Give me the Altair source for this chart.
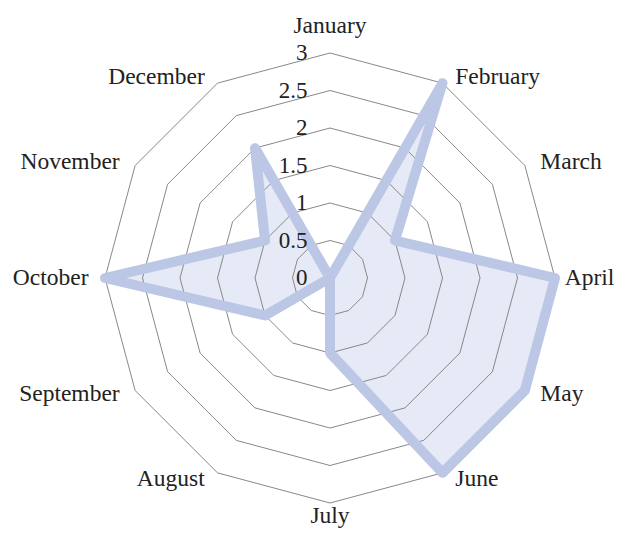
import altair as alt
import pandas as pd

months = ["January", "February", "March", "April", "May", "June",
          "July", "August", "September", "October", "November", "December"]
values = [0, 3, 1, 3, 3, 3, 1, 0, 1, 3, 1, 2]
tick_values = [0, 0.5, 1, 1.5, 2, 2.5, 3]
tick_labels = ["0", "0.5", "1", "1.5", "2", "2.5", "3"]
ring_levels = [0.5, 1, 1.5, 2, 2.5, 3]

n = len(months)
series_df = pd.DataFrame({
    "idx": list(range(n)) + [n],
    "month": months + [months[0]],
    "value": values + [values[0]],
})
grid_df = pd.DataFrame([{"level": lv, "idx": i} for lv in ring_levels for i in range(n + 1)])
label_df = pd.DataFrame({"idx": list(range(n)), "month": months})
tick_df = pd.DataFrame({"value": tick_values, "label": tick_labels})

W, H = 609, 520
xs = alt.Scale(domain=[-322 / 75, (W - 322) / 75], nice=False, zero=False)
ys = alt.Scale(domain=[-(H - 270) / 75, 270 / 75], nice=False, zero=False)
ang = f"2*PI*datum.idx/{n}"
FONT = "Liberation Serif, Times New Roman, serif"
TXT = "#222222"

grid = alt.Chart(grid_df).transform_calculate(
    gx=f"datum.level*sin({ang})", gy=f"datum.level*cos({ang})"
).mark_line(stroke="#888888", strokeWidth=1).encode(
    x=alt.X("gx:Q", scale=xs, axis=None),
    y=alt.Y("gy:Q", scale=ys, axis=None),
    detail="level:N",
    order="idx:Q",
)

series_base = alt.Chart(series_df).transform_calculate(
    px=f"datum.value*sin({ang})", py=f"datum.value*cos({ang})"
)
enc = dict(
    x=alt.X("px:Q", scale=xs, axis=None),
    y=alt.Y("py:Q", scale=ys, axis=None),
    order="idx:Q",
)
fill = series_base.mark_line(
    fill="#e6eaf6", fillOpacity=1, strokeOpacity=0, strokeWidth=0
).encode(**enc)
band = series_base.mark_line(
    stroke="#bcc7e6", strokeWidth=10, strokeJoin="round", strokeCap="round"
).encode(**enc)

lab_base = alt.Chart(label_df).transform_calculate(
    s=f"sin({ang})", c=f"cos({ang})"
).transform_calculate(
    lx="3.1*datum.s + (datum.s > 0.01 ? (abs(datum.c) < 0.01 ? 0.03 : 0.12) : (datum.s < -0.01 ? -0.12 : 0))",
    ly="3.1*datum.c - 0.093 + (datum.c > 0.99 ? 0.256 : (datum.c < -0.99 ? -0.07 : 0))",
)

def month_layer(flt, align):
    return lab_base.transform_filter(flt).mark_text(
        align=align, baseline="alphabetic", font=FONT, fontSize=23.5, color=TXT
    ).encode(
        x=alt.X("lx:Q", scale=xs, axis=None),
        y=alt.Y("ly:Q", scale=ys, axis=None),
        text="month:N",
    )

lab_right = month_layer("datum.s > 0.01", "left")
lab_left = month_layer("datum.s < -0.01", "right")
lab_center = month_layer("abs(datum.s) <= 0.01", "center")

ticks = alt.Chart(tick_df).transform_calculate(tx="-0.3").mark_text(
    align="right", baseline="middle", font=FONT, fontSize=23, color=TXT
).encode(
    x=alt.X("tx:Q", scale=xs, axis=None),
    y=alt.Y("value:Q", scale=ys, axis=None),
    text="label:N",
)

chart = alt.layer(fill, grid, band, ticks, lab_right, lab_left, lab_center).properties(
    width=W, height=H, autosize=alt.AutoSizeParams(type="none"), padding=0
).configure_view(stroke=None)

chart.save("out.html", embed_options={"renderer": "svg", "actions": False})
